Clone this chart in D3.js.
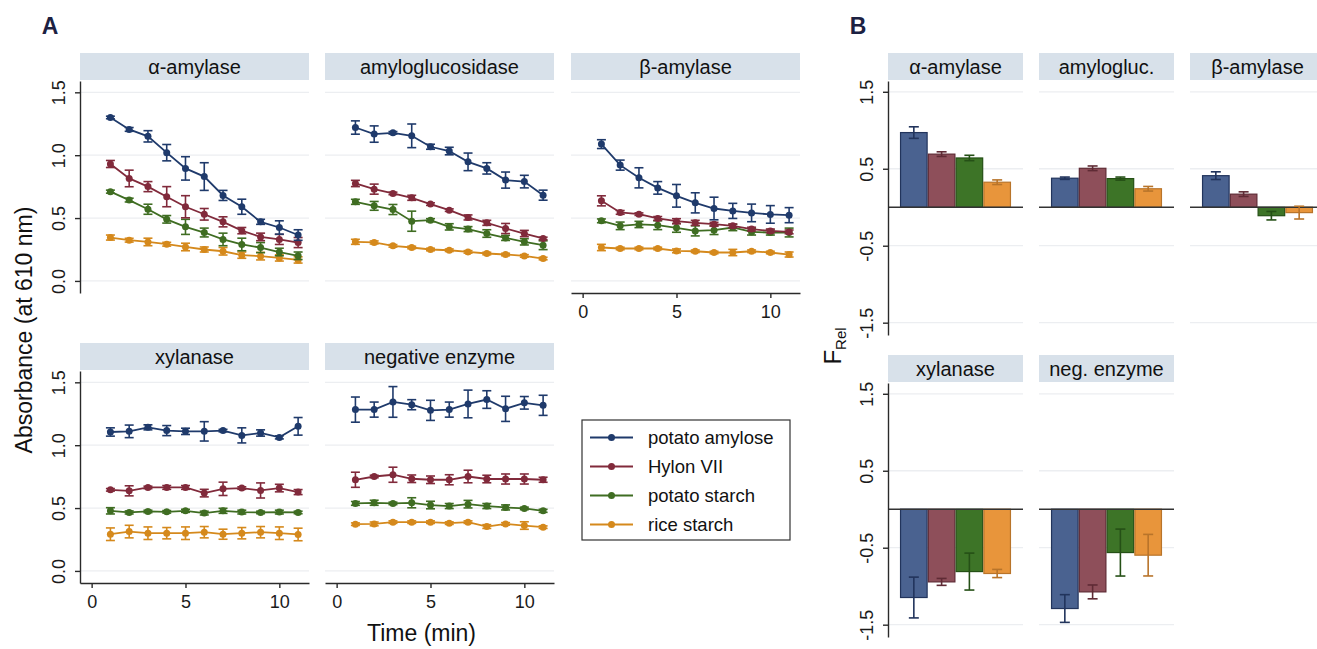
<!DOCTYPE html>
<html><head><meta charset="utf-8">
<script src="https://cdn.jsdelivr.net/npm/d3@7"></script>
<style>body{margin:0;background:#fff;} svg{display:block;font-family:"Liberation Sans",Arial,sans-serif;}</style>
</head><body><svg id="c" width="1317" height="649"></svg>
<script>
// ---------- data ----------
const times = [1,2,3,4,5,6,7,8,9,10,11];
const series = ["potato amylose","Hylon VII","potato starch","rice starch"];
const enzymesA = ["α-amylase","amyloglucosidase","β-amylase","xylanase","negative enzyme"];
const enzymesB = ["α-amylase","amylogluc.","β-amylase","xylanase","neg. enzyme"];
const yTicksA = [0,0.5,1,1.5];
const xTicksA = [0,5,10];
const yTicksB = [1.5,0.5,-0.5,-1.5];

// absorbance means / standard errors, one row per series
const alphaMean = [
  [1.30,1.205,1.15,1.02,0.895,0.83,0.68,0.59,0.47,0.425,0.365],
  [0.93,0.815,0.75,0.67,0.59,0.53,0.47,0.40,0.35,0.33,0.305],
  [0.71,0.643,0.57,0.49,0.43,0.385,0.33,0.29,0.265,0.23,0.20],
  [0.345,0.324,0.31,0.292,0.27,0.25,0.236,0.205,0.197,0.183,0.167]];
const alphaErr = [
  [0.01,0.015,0.045,0.065,0.093,0.11,0.04,0.06,0.02,0.053,0.042],
  [0.028,0.066,0.04,0.08,0.088,0.046,0.04,0.025,0.03,0.04,0.04],
  [0.012,0.015,0.04,0.03,0.06,0.035,0.05,0.05,0.04,0.03,0.03],
  [0.02,0.015,0.03,0.015,0.03,0.02,0.03,0.025,0.03,0.025,0.025]];
const glucoMean = [
  [1.22,1.168,1.178,1.154,1.067,1.033,0.947,0.895,0.802,0.79,0.682],
  [0.775,0.73,0.696,0.661,0.611,0.563,0.505,0.462,0.417,0.377,0.338],
  [0.629,0.597,0.568,0.475,0.483,0.43,0.412,0.377,0.342,0.311,0.284],
  [0.311,0.306,0.279,0.266,0.25,0.244,0.231,0.218,0.21,0.199,0.178]];
const glucoErr = [
  [0.053,0.065,0.01,0.094,0.02,0.03,0.07,0.045,0.064,0.05,0.04],
  [0.025,0.04,0.01,0.02,0.01,0.01,0.02,0.02,0.04,0.025,0.01],
  [0.02,0.035,0.04,0.08,0.012,0.025,0.02,0.03,0.02,0.025,0.035],
  [0.02,0.012,0.01,0.01,0.01,0.01,0.01,0.01,0.01,0.01,0.01]];
const betaMean = [
  [1.088,0.921,0.82,0.74,0.677,0.621,0.576,0.557,0.541,0.529,0.523],
  [0.637,0.545,0.531,0.497,0.475,0.462,0.451,0.438,0.412,0.398,0.39],
  [0.478,0.438,0.449,0.443,0.422,0.398,0.404,0.425,0.39,0.385,0.385],
  [0.266,0.258,0.258,0.258,0.239,0.236,0.226,0.226,0.236,0.226,0.21]];
const betaErr = [
  [0.035,0.04,0.08,0.05,0.09,0.08,0.09,0.06,0.07,0.07,0.06],
  [0.04,0.015,0.01,0.015,0.02,0.02,0.015,0.015,0.015,0.015,0.015],
  [0.015,0.03,0.025,0.035,0.035,0.04,0.035,0.025,0.025,0.02,0.035],
  [0.025,0.01,0.01,0.01,0.015,0.01,0.01,0.025,0.01,0.01,0.02]];
const xylMean = [
  [1.105,1.11,1.142,1.116,1.11,1.11,1.116,1.078,1.097,1.062,1.15],
  [0.645,0.637,0.664,0.664,0.664,0.619,0.653,0.659,0.64,0.659,0.627],
  [0.478,0.465,0.473,0.47,0.478,0.46,0.478,0.468,0.465,0.468,0.465],
  [0.292,0.313,0.3,0.3,0.3,0.308,0.292,0.3,0.308,0.3,0.29]];
const xylErr = [
  [0.033,0.05,0.02,0.04,0.025,0.077,0.01,0.06,0.025,0.012,0.07],
  [0.01,0.04,0.01,0.015,0.015,0.03,0.053,0.01,0.06,0.03,0.02],
  [0.025,0.012,0.01,0.01,0.012,0.015,0.02,0.015,0.01,0.015,0.01],
  [0.05,0.05,0.05,0.045,0.05,0.045,0.04,0.045,0.045,0.05,0.05]];
const negMean = [
  [1.283,1.283,1.344,1.322,1.277,1.283,1.328,1.363,1.289,1.337,1.317],
  [0.725,0.751,0.765,0.733,0.725,0.725,0.751,0.731,0.731,0.731,0.725],
  [0.537,0.542,0.537,0.542,0.524,0.516,0.531,0.516,0.505,0.497,0.478],
  [0.372,0.374,0.388,0.388,0.388,0.38,0.388,0.353,0.374,0.361,0.348]];
const negErr = [
  [0.1,0.06,0.122,0.04,0.08,0.06,0.11,0.07,0.1,0.05,0.08],
  [0.06,0.01,0.06,0.03,0.03,0.04,0.05,0.03,0.04,0.04,0.02],
  [0.015,0.02,0.01,0.04,0.03,0.02,0.03,0.02,0.02,0.01,0.012],
  [0.01,0.015,0.01,0.01,0.01,0.01,0.01,0.015,0.01,0.03,0.01]];

// F_Rel means / errors per enzyme (series order)
const fRelMean = [
  [0.97,0.69,0.64,0.325],
  [0.377,0.506,0.372,0.24],
  [0.41,0.17,-0.11,-0.07],
  [-1.147,-0.944,-0.81,-0.835],
  [-1.29,-1.074,-0.563,-0.597]];
const fRelErr = [
  [0.075,0.03,0.035,0.03],
  [0.015,0.03,0.02,0.03],
  [0.05,0.03,0.055,0.083],
  [0.265,0.045,0.24,0.053],
  [0.18,0.09,0.305,0.27]];

// ---------- styles ----------
const lineColors = ["#1f3a6b","#812a3b","#3f6d22","#d5891c"];
const barFill = ["#4a6290","#8e4f5a","#3d7427","#e8953b"];
const barStroke = ["#22345c","#5f2b35","#255016","#b8742a"];
const stripFill = "#d8e1ea";
const gridColor = "#eceef1";
const axisColor = "#2a2a2a";

const svg = d3.select("#c");

function styleAxis(g){
  g.selectAll(".domain").attr("stroke",axisColor).attr("stroke-width",1.4);
  g.selectAll(".tick line").attr("stroke",axisColor).attr("stroke-width",1.4);
  g.selectAll(".tick text").attr("fill","#1a1a1a").style("font-size","18px").style("font-family","Liberation Sans, Arial, sans-serif");
}

// ---------- panel A ----------
const wA = 229, hA = 212;
const xA = d3.scaleLinear().domain([-0.62,11.58]).range([0,wA]);
const yA = d3.scaleLinear().domain([-0.096,1.59]).range([hA,0]);
const dataA = [[alphaMean,alphaErr],[glucoMean,glucoErr],[betaMean,betaErr],[xylMean,xylErr],[negMean,negErr]];
const layoutA = [
  {x:80,y:81,xa:false,ya:true},{x:325,y:81,xa:false,ya:false},{x:571,y:81,xa:true,ya:false},
  {x:80,y:371,xa:true,ya:true},{x:325,y:371,xa:true,ya:false}];

enzymesA.forEach((name,i)=>{
  const L = layoutA[i];
  const g = svg.append("g").attr("transform",`translate(${L.x},${L.y})`);
  g.append("rect").attr("x",0).attr("y",-28).attr("width",wA).attr("height",27).attr("fill",stripFill);
  g.append("text").attr("x",wA/2).attr("y",-14.5).attr("text-anchor","middle").attr("dominant-baseline","central")
    .style("font-size","20px").attr("fill","#111").text(name);
  g.selectAll(".grid").data(yTicksA).join("line").attr("x1",0).attr("x2",wA)
    .attr("y1",d=>yA(d)).attr("y2",d=>yA(d)).attr("stroke",gridColor).attr("stroke-width",1.3);
  const [means,errs] = dataA[i];
  const line = d3.line().x((d,k)=>xA(times[k])).y(d=>yA(d));
  for(let s=series.length-1;s>=0;s--){
    const c = lineColors[s];
    const sg = g.append("g");
    sg.append("path").attr("d",line(means[s])).attr("fill","none").attr("stroke",c).attr("stroke-width",1.8);
    means[s].forEach((m,k)=>{
      const e = errs[s][k], cx = xA(times[k]);
      sg.append("line").attr("x1",cx).attr("x2",cx).attr("y1",yA(m-e)).attr("y2",yA(m+e)).attr("stroke",c).attr("stroke-width",1.6);
      [m-e,m+e].forEach(v=>sg.append("line").attr("x1",cx-4.5).attr("x2",cx+4.5).attr("y1",yA(v)).attr("y2",yA(v)).attr("stroke",c).attr("stroke-width",1.6));
    });
    sg.selectAll("circle").data(means[s]).join("circle").attr("cx",(d,k)=>xA(times[k])).attr("cy",d=>yA(d)).attr("r",3.5).attr("fill",c);
  }
  if(L.ya){
    const ax = g.append("g").call(d3.axisLeft(yA).tickValues(yTicksA).tickFormat(d=>d.toFixed(1)).tickSize(5).tickSizeOuter(0));
    styleAxis(ax);
    ax.selectAll(".tick text").attr("transform","rotate(-90)").attr("x",0).attr("y",-15).attr("dy",0).attr("text-anchor","middle");
  }
  if(L.xa){
    const ax = g.append("g").attr("transform",`translate(0,${hA})`).call(d3.axisBottom(xA).tickValues(xTicksA).tickSize(5).tickSizeOuter(0));
    styleAxis(ax);
    ax.selectAll(".tick text").attr("y",24.5).attr("dy",0);
  }
});

// legend
const lg = svg.append("g").attr("transform","translate(582,420)");
lg.append("rect").attr("width",208).attr("height",120).attr("fill","#fff").attr("stroke","#333").attr("stroke-width",1.2);
series.forEach((s,i)=>{
  const yy = 17.5 + i*29;
  lg.append("line").attr("x1",8).attr("x2",51).attr("y1",yy).attr("y2",yy).attr("stroke",lineColors[i]).attr("stroke-width",1.9);
  lg.append("circle").attr("cx",29.5).attr("cy",yy).attr("r",3.5).attr("fill",lineColors[i]);
  lg.append("text").attr("x",66).attr("y",yy).attr("dominant-baseline","central").style("font-size","18.5px").attr("fill","#111").text(s);
});

// axis titles A
svg.append("text").attr("transform","translate(32,330) rotate(-90)").attr("text-anchor","middle")
  .style("font-size","23px").attr("fill","#111").text("Absorbance (at 610 nm)");
svg.append("text").attr("x",421.5).attr("y",641).attr("text-anchor","middle")
  .style("font-size","23px").attr("fill","#111").text("Time (min)");

// ---------- panel B ----------
const wB = 135, hB = 254;
const xB = d3.scaleBand().domain(series).range([0,wB]).paddingInner(0).paddingOuter(0.43);
const yB = d3.scaleLinear().domain([-1.66,1.64]).range([hB,0]);
const layoutB = [{x:888,y:81,ya:true},{x:1039,y:81},{x:1190,y:81},{x:888,y:383,ya:true},{x:1039,y:383}];

enzymesB.forEach((name,i)=>{
  const L = layoutB[i];
  const g = svg.append("g").attr("transform",`translate(${L.x},${L.y})`);
  g.append("rect").attr("x",0).attr("y",-28).attr("width",wB).attr("height",27).attr("fill",stripFill);
  g.append("text").attr("x",wB/2).attr("y",-14.5).attr("text-anchor","middle").attr("dominant-baseline","central")
    .style("font-size","20px").attr("fill","#111").text(name);
  g.selectAll(".grid").data(yTicksB).join("line").attr("x1",0).attr("x2",wB)
    .attr("y1",d=>yB(d)).attr("y2",d=>yB(d)).attr("stroke",gridColor).attr("stroke-width",1.3);
  series.forEach((s,k)=>{
    const v = fRelMean[i][k];
    const bx = xB(s), bw = xB.bandwidth();
    g.append("rect").attr("x",bx+0.6).attr("width",bw-1.2)
      .attr("y",Math.min(yB(0),yB(v))).attr("height",Math.abs(yB(v)-yB(0)))
      .attr("fill",barFill[k]).attr("stroke",barStroke[k]).attr("stroke-width",1.2);
  });
  g.append("line").attr("x1",0).attr("x2",wB).attr("y1",yB(0)).attr("y2",yB(0)).attr("stroke","#333").attr("stroke-width",1.7);
  series.forEach((s,k)=>{
    const v = fRelMean[i][k], e = fRelErr[i][k];
    const cx = xB(s)+xB.bandwidth()/2;
    g.append("line").attr("x1",cx).attr("x2",cx).attr("y1",yB(v-e)).attr("y2",yB(v+e)).attr("stroke",barStroke[k]).attr("stroke-width",1.6);
    [v-e,v+e].forEach(t=>g.append("line").attr("x1",cx-5).attr("x2",cx+5).attr("y1",yB(t)).attr("y2",yB(t)).attr("stroke",barStroke[k]).attr("stroke-width",1.6));
  });
  if(L.ya){
    const ax = g.append("g").call(d3.axisLeft(yB).tickValues(yTicksB).tickFormat(d=>d.toFixed(1)).tickSize(5).tickSizeOuter(0));
    styleAxis(ax);
    ax.selectAll(".tick text").attr("transform","rotate(-90)").attr("x",0).attr("y",-15).attr("dy",0).attr("text-anchor","middle");
  }
});

// F_Rel label
const fl = svg.append("text").attr("transform","translate(841,346) rotate(-90)").attr("text-anchor","middle").attr("fill","#111");
fl.append("tspan").style("font-size","24px").text("F");
fl.append("tspan").style("font-size","15px").attr("dy",5).text("Rel");

// panel letters
svg.append("text").attr("x",50).attr("y",34).attr("text-anchor","middle").style("font-size","23px").style("font-weight","bold").attr("fill","#1c2142").text("A");
svg.append("text").attr("x",858).attr("y",34).attr("text-anchor","middle").style("font-size","23px").style("font-weight","bold").attr("fill","#1c2142").text("B");
</script></body></html>
